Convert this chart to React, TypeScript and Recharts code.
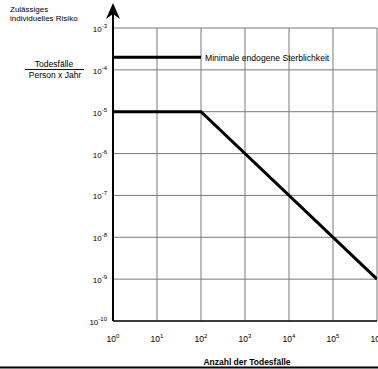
import React from "react";
import { LineChart, Line, XAxis, YAxis, CartesianGrid } from "recharts";

const xTicks = [1, 10, 100, 1e3, 1e4, 1e5, 1e6];
const yTicks = [1e-10, 1e-9, 1e-8, 1e-7, 1e-6, 1e-5, 1e-4, 1e-3];

const limitX = [1, 100, 1e6];
const limitY = [1e-5, 1e-5, 1e-9];

const endoX = [1, 100];
const endoY = [2e-4, 2e-4];

const endoLabel = "Minimale endogene Sterblichkeit";
const yTitle = ["Zulässiges", "individuelles Risiko"];
const unitTop = "Todesfälle";
const unitBottom = "Person x Jahr";
const xTitle = "Anzahl der Todesfälle";

const limitData = limitX.map((x, i) => ({ x, y: limitY[i] }));
const endoData = endoX.map((x, i) => ({ x, y: endoY[i] }));

const FONT = "'Liberation Sans', Arial, sans-serif";

const YTick = (props: any) => {
  const { x, y, payload } = props;
  const exp = Math.round(Math.log10(payload.value));
  return (
    <text x={x} y={y + 4} textAnchor="end" fontSize={8} fill="#000" fontFamily={FONT}>
      10<tspan dy={-4} fontSize={6}>{exp}</tspan>
    </text>
  );
};

const XTick = (props: any) => {
  const { x, y, payload } = props;
  const exp = Math.round(Math.log10(payload.value));
  return (
    <text x={x} y={y + 21} textAnchor="middle" fontSize={8.5} fill="#000" fontFamily={FONT}>
      10<tspan dy={-4} fontSize={6}>{exp}</tspan>
    </text>
  );
};

const EndoLabel = (props: any) => {
  const { x, y, index } = props;
  if (index !== endoData.length - 1) return null;
  return (
    <text x={x + 4} y={y + 3.5} fontSize={8.6} fill="#000" fontFamily={FONT}>
      {endoLabel}
    </text>
  );
};

export default function App() {
  return (
    <div style={{ position: "absolute", left: 0, top: 0, width: 378, height: 369, background: "#fff" }}>
      <LineChart
        width={378}
        height={369}
        margin={{ top: 28, right: 1, bottom: 0, left: 0 }}
      >
        <CartesianGrid stroke="#7a7a7a" strokeWidth={1} />
        <XAxis
          dataKey="x"
          type="number"
          scale="log"
          domain={[1, 1e6]}
          ticks={xTicks}
          allowDataOverflow
          height={48}
          tickSize={0}
          tickMargin={0}
          tick={<XTick />}
          axisLine={{ stroke: "#111", strokeWidth: 1.5 }}
          tickLine={false}
          interval={0}
        />
        <YAxis
          dataKey="y"
          type="number"
          scale="log"
          domain={[1e-10, 1e-3]}
          ticks={yTicks}
          allowDataOverflow
          width={113}
          tickSize={0}
          tickMargin={6}
          tick={<YTick />}
          axisLine={{ stroke: "#000", strokeWidth: 2 }}
          tickLine={false}
          interval={0}
        />
        <Line
          data={limitData}
          dataKey="y"
          stroke="#000"
          strokeWidth={3}
          dot={false}
          isAnimationActive={false}
          type="linear"
        />
        <Line
          data={endoData}
          dataKey="y"
          stroke="#000"
          strokeWidth={3}
          dot={false}
          isAnimationActive={false}
          type="linear"
          label={<EndoLabel />}
        />
      </LineChart>
      <svg
        width={378}
        height={369}
        style={{ position: "absolute", left: 0, top: 0, pointerEvents: "none" }}
      >
        <g fontFamily={FONT} fill="#000">
          <text x={10} y={12} fontSize={8}>{yTitle[0]}</text>
          <text x={10} y={20.5} fontSize={8}>{yTitle[1]}</text>
          <text x={54} y={67} fontSize={8.5} textAnchor="middle">{unitTop}</text>
          <text x={55} y={78} fontSize={8.5} textAnchor="middle">{unitBottom}</text>
          <text x={247} y={365} fontSize={8.5} fontWeight="bold" textAnchor="middle">{xTitle}</text>
        </g>
        <line x1={25} y1={69.5} x2={84} y2={69.5} stroke="#111" strokeWidth={1} />
        <line x1={113} y1={10} x2={113} y2={29} stroke="#000" strokeWidth={2} />
        <path d="M113,3 L120,19 L113,14 L106,19 Z" fill="#000" />
        <line x1={0} y1={367.5} x2={378} y2={367.5} stroke="#000" strokeWidth={2} />
      </svg>
    </div>
  );
}
